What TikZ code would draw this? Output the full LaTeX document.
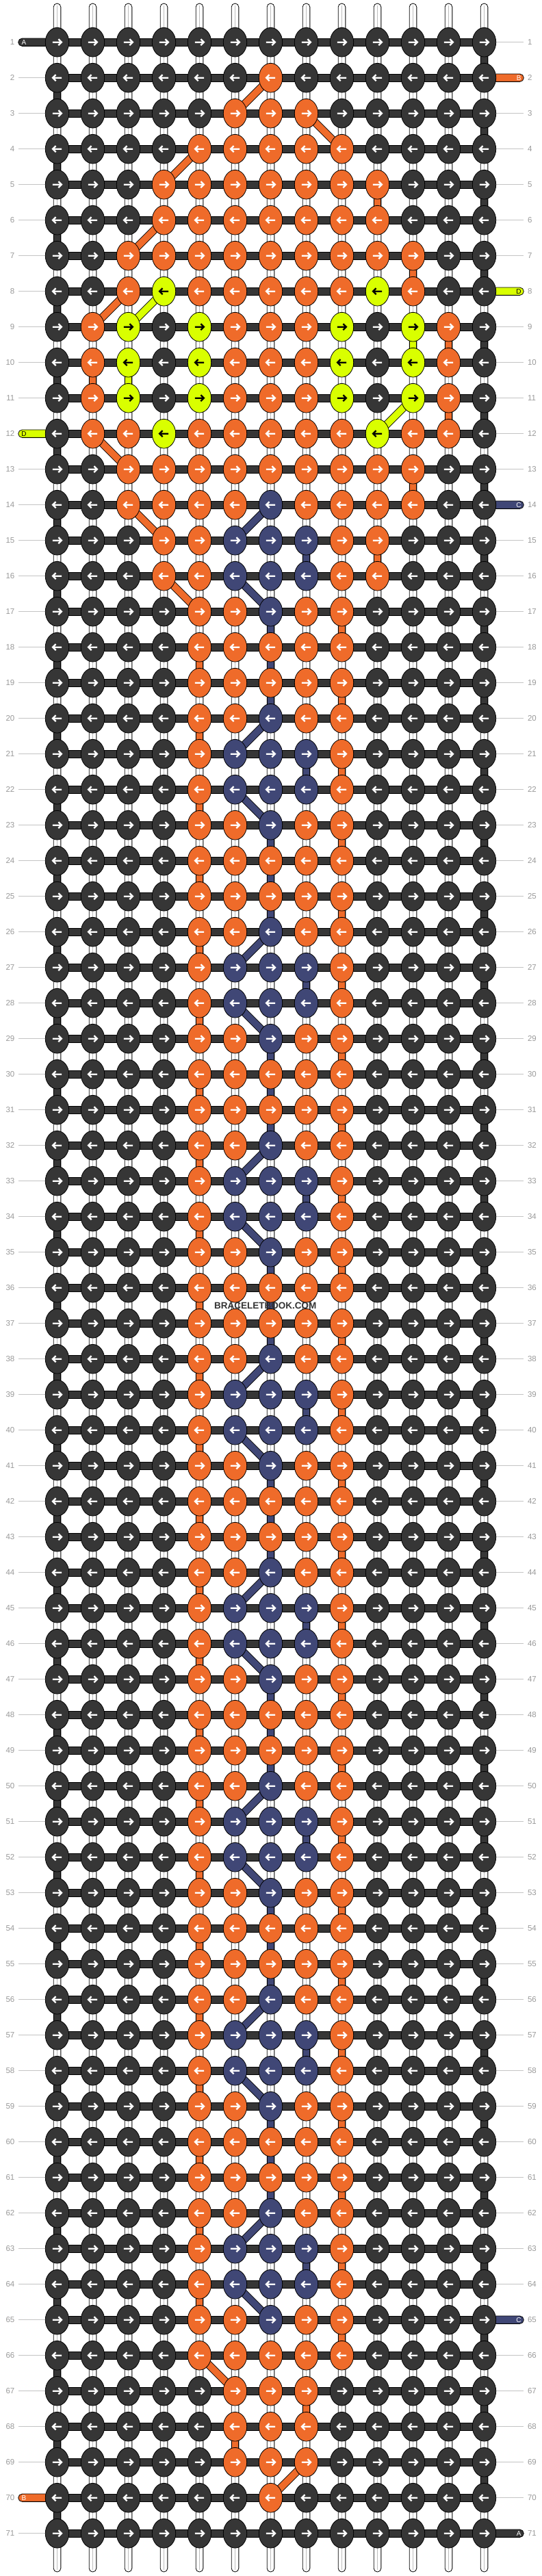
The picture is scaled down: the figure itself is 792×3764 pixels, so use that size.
\documentclass[tikz,border=0pt]{standalone}
\usepackage{fontspec}
\setmainfont{Liberation Sans}
\usetikzlibrary{shapes.geometric,calc}
\definecolor{kA}{HTML}{363636}
\definecolor{kB}{HTML}{EF6B2A}
\definecolor{kC}{HTML}{404776}
\definecolor{kD}{HTML}{D9FF00}
\colorlet{aA}{white}\colorlet{aB}{white}\colorlet{aC}{white}\colorlet{aD}{black}
\definecolor{lblgray}{HTML}{9A9A9A}
\definecolor{linegray}{HTML}{C4C4C4}
\definecolor{strgray}{HTML}{BDBDBD}
\definecolor{wmark}{HTML}{333333}
\pgfdeclarelayer{strings}
\pgfdeclarelayer{links}
\pgfsetlayers{strings,links,main}
\tikzset{
  knot/.style={ellipse, draw=black, line width=0.8pt, minimum width=34.4pt, minimum height=42.7pt, inner sep=0pt},
  arrowline/.style={line width=2.3pt, line cap=butt, line join=miter},
  blockline/.style={draw=black, line width=0.8pt},
  rowlbl/.style={text=lblgray, font=\fontsize{11.5}{12}\selectfont, inner sep=0pt},
  stublbl/.style={font=\fontsize{10}{10}\selectfont, inner sep=0pt},
  lblline/.style={draw=linegray, line width=1pt},
  warp/.style={fill=white, draw=black, line width=0.8pt, rounded corners=5.3pt},
}
\newcommand\linkblock[4]{%
  \draw[blockline, fill=#4] ($(k-#1-#3.center)+(-5.35,0)$) rectangle ($(k-#2-#3.center)+(5.35,0)$);}
\newcommand\linkdiag[5]{%
  \draw[black, line width=11.4pt] (k-#1-#2.center) -- (k-#3-#4.center);
  \draw[#5, line width=9.8pt] (k-#1-#2.center) -- (k-#3-#4.center);}
\newcommand\stubL[4]{%
  \coordinate (sL-#1) at (26.7,{9.7+52*#1});
  \draw[blockline, fill=#2, rounded corners=5.6pt] ($(sL-#1)+(0,-5.65)$) rectangle ($(k-#1-1.center)+(0,5.65)$);
  \node[stublbl, text=#4] (tL-#1) at ($(sL-#1)+(8.2,0)$) {#3};}
\newcommand\stubR[4]{%
  \coordinate (sR-#1) at (765.3,{9.7+52*#1});
  \draw[blockline, fill=#2, rounded corners=5.6pt] ($(k-#1-13.center)+(0,-5.65)$) rectangle ($(sR-#1)+(0,5.65)$);
  \node[stublbl, text=#4] (tR-#1) at ($(sR-#1)+(-7.2,0)$) {#3};}
\begin{document}
\begin{tikzpicture}[x=1pt,y=-1pt]
\useasboundingbox (0,0) rectangle (792,3764);
% ---------- knots ----------
\foreach \row [count=\ri] in {
{A,A,A,A,A,A,A,A,A,A,A,A,A},%1
{A,A,A,A,A,A,B,A,A,A,A,A,A},%2
{A,A,A,A,A,B,B,B,A,A,A,A,A},%3
{A,A,A,A,B,B,B,B,B,A,A,A,A},%4
{A,A,A,B,B,B,B,B,B,B,A,A,A},%5
{A,A,A,B,B,B,B,B,B,B,A,A,A},%6
{A,A,B,B,B,B,B,B,B,B,B,A,A},%7
{A,A,B,D,B,B,B,B,B,D,B,A,A},%8
{A,B,D,A,D,B,B,B,D,A,D,B,A},%9
{A,B,D,A,D,B,B,B,D,A,D,B,A},%10
{A,B,D,A,D,B,B,B,D,A,D,B,A},%11
{A,B,B,D,B,B,B,B,B,D,B,B,A},%12
{A,A,B,B,B,B,B,B,B,B,B,A,A},%13
{A,A,B,B,B,B,C,B,B,B,B,A,A},%14
{A,A,A,B,B,C,C,C,B,B,A,A,A},%15
{A,A,A,B,B,C,C,C,B,B,A,A,A},%16
{A,A,A,A,B,B,C,B,B,A,A,A,A},%17
{A,A,A,A,B,B,B,B,B,A,A,A,A},%18
{A,A,A,A,B,B,B,B,B,A,A,A,A},%19
{A,A,A,A,B,B,C,B,B,A,A,A,A},%20
{A,A,A,A,B,C,C,C,B,A,A,A,A},%21
{A,A,A,A,B,C,C,C,B,A,A,A,A},%22
{A,A,A,A,B,B,C,B,B,A,A,A,A},%23
{A,A,A,A,B,B,B,B,B,A,A,A,A},%24
{A,A,A,A,B,B,B,B,B,A,A,A,A},%25
{A,A,A,A,B,B,C,B,B,A,A,A,A},%26
{A,A,A,A,B,C,C,C,B,A,A,A,A},%27
{A,A,A,A,B,C,C,C,B,A,A,A,A},%28
{A,A,A,A,B,B,C,B,B,A,A,A,A},%29
{A,A,A,A,B,B,B,B,B,A,A,A,A},%30
{A,A,A,A,B,B,B,B,B,A,A,A,A},%31
{A,A,A,A,B,B,C,B,B,A,A,A,A},%32
{A,A,A,A,B,C,C,C,B,A,A,A,A},%33
{A,A,A,A,B,C,C,C,B,A,A,A,A},%34
{A,A,A,A,B,B,C,B,B,A,A,A,A},%35
{A,A,A,A,B,B,B,B,B,A,A,A,A},%36
{A,A,A,A,B,B,B,B,B,A,A,A,A},%37
{A,A,A,A,B,B,C,B,B,A,A,A,A},%38
{A,A,A,A,B,C,C,C,B,A,A,A,A},%39
{A,A,A,A,B,C,C,C,B,A,A,A,A},%40
{A,A,A,A,B,B,C,B,B,A,A,A,A},%41
{A,A,A,A,B,B,B,B,B,A,A,A,A},%42
{A,A,A,A,B,B,B,B,B,A,A,A,A},%43
{A,A,A,A,B,B,C,B,B,A,A,A,A},%44
{A,A,A,A,B,C,C,C,B,A,A,A,A},%45
{A,A,A,A,B,C,C,C,B,A,A,A,A},%46
{A,A,A,A,B,B,C,B,B,A,A,A,A},%47
{A,A,A,A,B,B,B,B,B,A,A,A,A},%48
{A,A,A,A,B,B,B,B,B,A,A,A,A},%49
{A,A,A,A,B,B,C,B,B,A,A,A,A},%50
{A,A,A,A,B,C,C,C,B,A,A,A,A},%51
{A,A,A,A,B,C,C,C,B,A,A,A,A},%52
{A,A,A,A,B,B,C,B,B,A,A,A,A},%53
{A,A,A,A,B,B,B,B,B,A,A,A,A},%54
{A,A,A,A,B,B,B,B,B,A,A,A,A},%55
{A,A,A,A,B,B,C,B,B,A,A,A,A},%56
{A,A,A,A,B,C,C,C,B,A,A,A,A},%57
{A,A,A,A,B,C,C,C,B,A,A,A,A},%58
{A,A,A,A,B,B,C,B,B,A,A,A,A},%59
{A,A,A,A,B,B,B,B,B,A,A,A,A},%60
{A,A,A,A,B,B,B,B,B,A,A,A,A},%61
{A,A,A,A,B,B,C,B,B,A,A,A,A},%62
{A,A,A,A,B,C,C,C,B,A,A,A,A},%63
{A,A,A,A,B,C,C,C,B,A,A,A,A},%64
{A,A,A,A,B,B,C,B,B,A,A,A,A},%65
{A,A,A,A,B,B,B,B,B,A,A,A,A},%66
{A,A,A,A,A,B,B,B,A,A,A,A,A},%67
{A,A,A,A,A,B,B,B,A,A,A,A,A},%68
{A,A,A,A,A,B,B,B,A,A,A,A,A},%69
{A,A,A,A,A,A,B,A,A,A,A,A,A},%70
{A,A,A,A,A,A,A,A,A,A,A,A,A}%71
}{
  \pgfmathsetmacro\yy{9.7+52*\ri}
  \pgfmathtruncatemacro\dir{1-2*mod(\ri+1,2)}
  \foreach \col [count=\ci] in \row {
    \pgfmathsetmacro\xx{31.5+52*\ci}
    \node[knot, fill=k\col] (k-\ri-\ci) at (\xx,\yy) {};
    \draw[arrowline, draw=a\col, shift={(\xx,\yy)}, xscale=\dir]
      (-6.7,0) -- (6.1,0) (1.9,-4.5) -- (6.4,0) -- (1.9,4.5);
  }
  \node[rowlbl, anchor=east] (L-\ri) at (21.5,\yy) {\ri};
  \node[rowlbl, anchor=west] (R-\ri) at (770.8,\yy) {\ri};
}
% ---------- strings, bars, label lines ----------
\begin{pgfonlayer}{strings}
\fill[white] (0,0) rectangle (792,3764);
\foreach \ci in {1,...,13}{
  \pgfmathsetmacro\xx{31.5+52*\ci}
  \coordinate (wt-\ci) at (\xx,5);
  \coordinate (wb-\ci) at (\xx,3758);
  \draw[warp] ($(wt-\ci)+(-5.35,0)$) rectangle ($(wb-\ci)+(5.35,0)$);
  \draw[strgray, line width=1.3pt] ($(wt-\ci)+(0,3)$) -- ($(wb-\ci)+(0,-3)$);
}
\foreach \ri in {1,...,71}{
  \pgfmathsetmacro\yy{9.7+52*\ri}
  \draw[blockline, fill=kA] ($(k-\ri-1.center)+(0,-5.65)$) rectangle ($(k-\ri-13.center)+(0,5.65)$);
  \coordinate (lL-\ri) at (26.7,\yy);
  \coordinate (lR-\ri) at (765.3,\yy);
  \draw[lblline] (lL-\ri) -- (k-\ri-1.west);
  \draw[lblline] (k-\ri-13.east) -- (lR-\ri);
}
\end{pgfonlayer}
% ---------- links ----------
\begin{pgfonlayer}{links}
% dark working string turning at the edges
\foreach \ri in {1,...,70}{
  \pgfmathtruncatemacro\rr{\ri+1}
  \pgfmathtruncatemacro\cc{mod(\ri,2)==1 ? 13 : 1}
  \linkblock{\ri}{\rr}{\cc}{kA}
}
% orange
\foreach \ri/\cc in {5/10,7/11,9/12,10/2,11/12,13/11,15/10,67/8,68/6}{
  \pgfmathtruncatemacro\rr{\ri+1}
  \linkblock{\ri}{\rr}{\cc}{kB}
}
\foreach \ri in {17,...,65}{
  \pgfmathtruncatemacro\rr{\ri+1}
  \pgfmathtruncatemacro\cc{mod(\ri,2)==1 ? 9 : 5}
  \linkblock{\ri}{\rr}{\cc}{kB}
}
\foreach \ri/\ca/\cb in {2/7/6,3/8/9,4/5/4,6/4/3,8/3/2,12/2/3,14/3/4,16/4/5,66/5/6,69/8/7}{
  \pgfmathtruncatemacro\rr{\ri+1}
  \linkdiag{\ri}{\ca}{\rr}{\cb}{kB}
}
% blue
\foreach \ri in {14,...,64}{
  \pgfmathtruncatemacro\rr{\ri+1}
  \pgfmathtruncatemacro\md{mod(\ri,6)}
  \ifcase\md
    \linkblock{\ri}{\rr}{7}{kC}\or
    \linkblock{\ri}{\rr}{7}{kC}\or
    \linkdiag{\ri}{7}{\rr}{6}{kC}\or
    \linkblock{\ri}{\rr}{8}{kC}\or
    \linkdiag{\ri}{6}{\rr}{7}{kC}\or
    \linkblock{\ri}{\rr}{7}{kC}\fi
}
% yellow
\linkblock{9}{10}{11}{kD}
\linkblock{10}{11}{3}{kD}
\linkdiag{8}{4}{9}{3}{kD}
\linkdiag{11}{11}{12}{10}{kD}
% string ends
\stubL{1}{kA}{A}{white}
\stubL{12}{kD}{D}{black}
\stubL{70}{kB}{B}{white}
\stubR{2}{kB}{B}{white}
\stubR{8}{kD}{D}{black}
\stubR{14}{kC}{C}{white}
\stubR{65}{kC}{C}{white}
\stubR{71}{kA}{A}{white}
\end{pgfonlayer}
% ---------- watermark ----------
\node[font=\bfseries\fontsize{13.5}{14}\selectfont, text=wmark, inner sep=0pt] (wm) at (387.8,1907.7) {BRACELETBOOK.COM};
\end{tikzpicture}
\end{document}
